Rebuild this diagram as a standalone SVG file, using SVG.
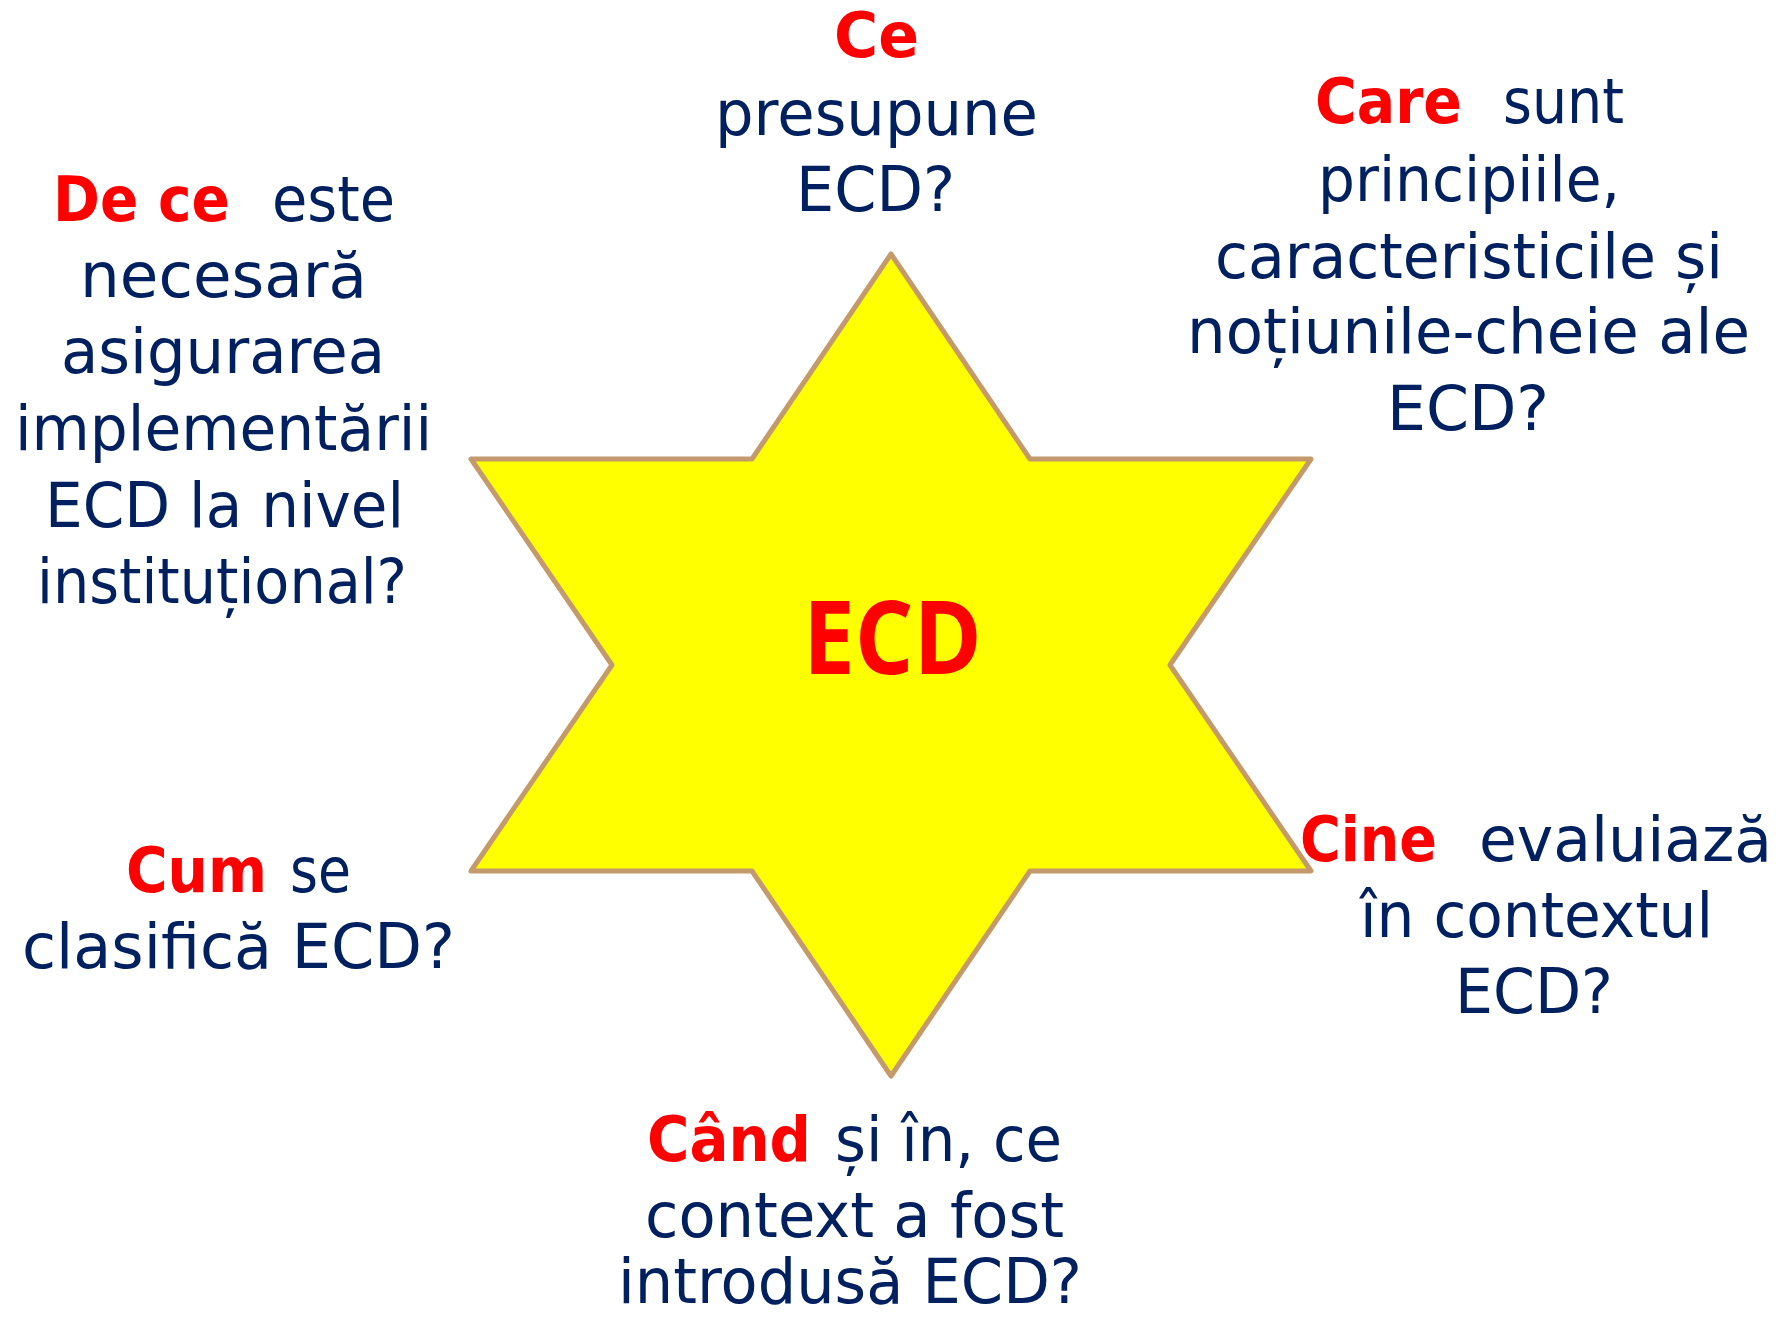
<svg xmlns="http://www.w3.org/2000/svg" width="1781" height="1318" viewBox="0 0 1781 1318">
<style>
.q{font-family:"DejaVu Sans","Noto Sans",sans-serif;font-size:63px;fill:#002060;}
.r{font-family:"DejaVu Sans","Noto Sans",sans-serif;font-size:63px;font-weight:bold;fill:#FF0000;}
.star{fill:#FFFF00;stroke:#C49A6C;stroke-width:5;stroke-linejoin:round;}
.hub{font-family:"Open Sans","Liberation Sans",sans-serif;font-size:102px;font-weight:bold;fill:#FF0000;}
</style>
<rect width="1781" height="1318" fill="#FFFFFF"/>
<g id="star">
<polygon class="star" points="891,254 1030,459 1311,459 1170,665 1311,871 1030,871 891,1076 752,871 471,871 612,665 471,459 752,459"/>
<text class="hub" x="803" y="674" textLength="179" lengthAdjust="spacingAndGlyphs">ECD</text>
</g>
<g id="connectors"/>
<g id="q-top">
<text class="r" x="834" y="57" textLength="85" lengthAdjust="spacingAndGlyphs">Ce</text>
<text class="q" x="715" y="135" textLength="323" lengthAdjust="spacingAndGlyphs">presupune</text>
<text class="q" x="796" y="211" textLength="159" lengthAdjust="spacingAndGlyphs">ECD?</text>
</g>
<g id="q-top-right">
<text class="r" x="1315" y="123" textLength="147" lengthAdjust="spacingAndGlyphs">Care</text>
<text class="q" x="1503" y="123" textLength="121" lengthAdjust="spacingAndGlyphs">sunt</text>
<text class="q" x="1318" y="201" textLength="302" lengthAdjust="spacingAndGlyphs">principiile,</text>
<text class="q" x="1215" y="278" textLength="508" lengthAdjust="spacingAndGlyphs">caracteristicile și</text>
<text class="q" x="1187" y="353" textLength="563" lengthAdjust="spacingAndGlyphs">noțiunile-cheie ale</text>
<text class="q" x="1387" y="430" textLength="162" lengthAdjust="spacingAndGlyphs">ECD?</text>
</g>
<g id="q-top-left">
<text class="r" x="53" y="221" textLength="177" lengthAdjust="spacingAndGlyphs">De ce</text>
<text class="q" x="272" y="221" textLength="123" lengthAdjust="spacingAndGlyphs">este</text>
<text class="q" x="80" y="297" textLength="287" lengthAdjust="spacingAndGlyphs">necesară</text>
<text class="q" x="61" y="373" textLength="324" lengthAdjust="spacingAndGlyphs">asigurarea</text>
<text class="q" x="15" y="450" textLength="417" lengthAdjust="spacingAndGlyphs">implementării</text>
<text class="q" x="45" y="527" textLength="359" lengthAdjust="spacingAndGlyphs">ECD la nivel</text>
<text class="q" x="37" y="603" textLength="370" lengthAdjust="spacingAndGlyphs">instituțional?</text>
</g>
<g id="q-bottom-left">
<text class="r" x="126" y="892" textLength="141" lengthAdjust="spacingAndGlyphs">Cum</text>
<text class="q" x="290" y="892" textLength="61" lengthAdjust="spacingAndGlyphs">se</text>
<text class="q" x="22" y="968" textLength="433" lengthAdjust="spacingAndGlyphs">clasifică ECD?</text>
</g>
<g id="q-bottom-right">
<text class="r" x="1300" y="861" textLength="137" lengthAdjust="spacingAndGlyphs">Cine</text>
<text class="q" x="1479" y="861" textLength="293" lengthAdjust="spacingAndGlyphs">evaluiază</text>
<text class="q" x="1360" y="937" textLength="353" lengthAdjust="spacingAndGlyphs">în contextul</text>
<text class="q" x="1455" y="1013" textLength="158" lengthAdjust="spacingAndGlyphs">ECD?</text>
</g>
<g id="q-bottom">
<text class="r" x="647" y="1161" textLength="164" lengthAdjust="spacingAndGlyphs">Când</text>
<text class="q" x="835" y="1161" textLength="227" lengthAdjust="spacingAndGlyphs">și în, ce</text>
<text class="q" x="645" y="1237" textLength="419" lengthAdjust="spacingAndGlyphs">context a fost</text>
<text class="q" x="618" y="1303" textLength="464" lengthAdjust="spacingAndGlyphs">introdusă ECD?</text>
</g>
</svg>
